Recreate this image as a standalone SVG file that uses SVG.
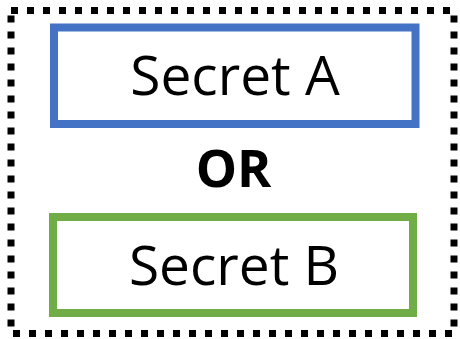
<svg xmlns="http://www.w3.org/2000/svg" width="460" height="339" viewBox="0 0 460 339">
<style>
.lbl{font-family:"Open Sans","Liberation Sans",sans-serif;font-size:55px;fill:#000;text-anchor:middle}
.or{font-family:"Open Sans","Liberation Sans",sans-serif;font-size:52px;font-weight:bold;fill:#000;text-anchor:middle}
</style>
<rect id="frame" x="11" y="10.5" width="443" height="323" fill="#fff" stroke="#000" stroke-width="7" stroke-dasharray="7 9"/>
<g id="secretA">
<rect x="54" y="27.5" width="361.5" height="96.5" fill="#fff" stroke="#4472C4" stroke-width="8"/>
<text class="lbl" x="235" y="95">Secret A</text>
</g>
<g id="or">
<text class="or" x="233.5" y="187">OR</text>
</g>
<g id="secretB">
<rect x="53" y="217" width="360" height="96" fill="#fff" stroke="#70AD47" stroke-width="8"/>
<text class="lbl" x="234" y="285">Secret B</text>
</g>
<g id="connectors"/>
</svg>
